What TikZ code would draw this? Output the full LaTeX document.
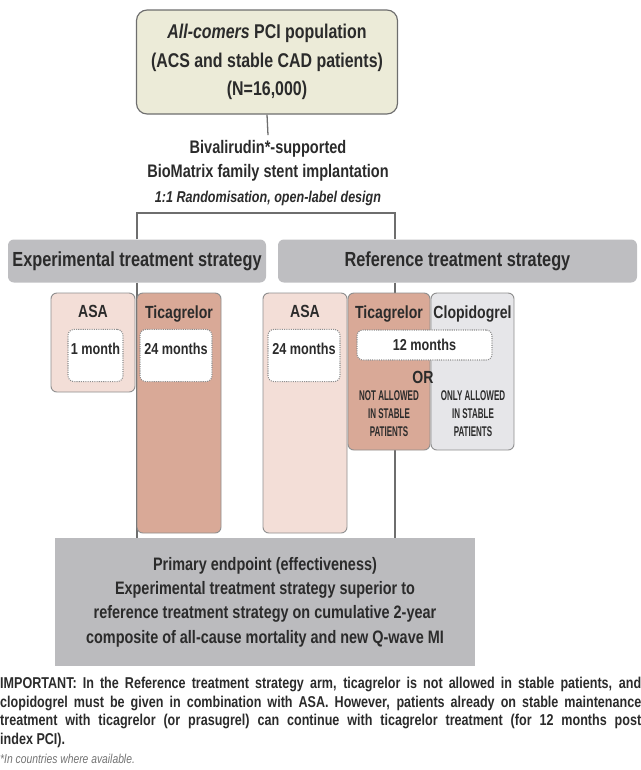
\documentclass[tikz,border=0pt]{standalone}
\usepackage{fontspec}
\setmainfont{Liberation Sans}[FakeStretch=0.8]
\newfontfamily\narrowfont{Liberation Sans}[FakeStretch=0.57]
\newfontfamily\notefont{Liberation Sans}[FakeStretch=0.8]
\usetikzlibrary{positioning,backgrounds}
\definecolor{popfill}{HTML}{ECEBD8}
\definecolor{headgray}{HTML}{BEBEC1}
\definecolor{endgray}{HTML}{BBBBBE}
\definecolor{asafill}{HTML}{F3DED7}
\definecolor{ticfill}{HTML}{D9A997}
\definecolor{clopfill}{HTML}{E6E6E9}
\definecolor{linegray}{HTML}{6E6E6E}
\definecolor{boxline}{HTML}{8E8E8E}
\definecolor{textgray}{HTML}{2B2B2B}

\begin{document}
\begin{tikzpicture}[x=.03cm, y=-.03cm,
  txt/.style={text=textgray, align=center, inner sep=0pt},
  popbox/.style={txt, draw=linegray, line width=1pt, fill=popfill, rounded corners=9pt},
  header/.style={txt, fill=headgray, rounded corners=5pt, font=\bfseries\fontsize{17.4}{20}\selectfont},
  drug/.style={draw=boxline, line width=.8pt, rounded corners=5pt},
  drugtitle/.style={txt, font=\bfseries\fontsize{15}{18}\selectfont},
  month/.style={txt, fill=white, draw=boxline, densely dotted, line width=.9pt, rounded corners=5pt, font=\bfseries\fontsize{13.5}{16}\selectfont},
  stable/.style={txt, font=\narrowfont\bfseries\fontsize{12}{15.3}\selectfont},
  connector/.style={draw=linegray, line width=1.1pt}]
\newcommand{\px}{.03cm}%
\newcommand{\noteline}[1]{\makebox[19.23cm][s]{#1}}%
\useasboundingbox (0,0) rectangle (641,770);

% population and randomisation
\node[popbox, minimum width=261*\px, minimum height=104*\px, font=\bfseries\fontsize{17}{24.5}\selectfont] (pop) at (267,62)
  {\textit{All-comers} PCI population\\(ACS and stable CAD patients)\\(N=16,000)};
\node[txt, inner sep=4pt, font=\bfseries\fontsize{15.5}{21.2}\selectfont] (stent) at (268,173)
  {Bivalirudin*-supported\\BioMatrix family stent implantation\\{\itshape\fontsize{13.4}{16}\selectfont 1:1 Randomisation, open-label design}};
\coordinate (refTop) at (395,213);

% strategy headers
\node[header, minimum width=258*\px, minimum height=43*\px] (expH) at (137,261) {Experimental treatment strategy};
\node[header, minimum width=359*\px, minimum height=43*\px] (refH) at (457.5,261) {Reference treatment strategy};

% experimental arm
\node[drug, fill=asafill, minimum width=84*\px, minimum height=99*\px] (asaE) at (93,342.5) {};
\node[drug, fill=ticfill, minimum width=84*\px, minimum height=240*\px] (ticE) at (179,413) {};
\node[drugtitle, below=11pt of asaE.north] (asaEt) {ASA};
\node[drugtitle, below=11pt of ticE.north] (ticEt) {Ticagrelor};
\node[month, minimum width=55*\px, text height=21pt, text depth=23.5pt] (m1) at (95.5,355.5) {1 month};
\node[month, minimum width=72*\px, text height=21pt, text depth=23.5pt] (m24E) at (176,355.5) {24 months};

% reference arm
\node[drug, fill=asafill, minimum width=84*\px, minimum height=240*\px] (asaR) at (305,413) {};
\node[drug, fill=ticfill, minimum width=82*\px, minimum height=157*\px] (ticR) at (389,371.5) {};
\node[drug, fill=clopfill, minimum width=83*\px, minimum height=157*\px] (clop) at (472.5,371.5) {};
\node[drugtitle, below=11pt of asaR.north] (asaRt) {ASA};
\node[drugtitle, below=11pt of ticR.north] (ticRt) {Ticagrelor};
\node[drugtitle, below=11pt of clop.north] (clopt) {Clopidogrel};
\node[month, minimum width=72*\px, text height=21pt, text depth=23.5pt] (m24R) at (304,355.5) {24 months};
\node[month, minimum width=135*\px, minimum height=30*\px] (m12) at (424.5,345) {12 months};
\node[txt, font=\bfseries\fontsize{15}{17}\selectfont] (or) at (423,377) {OR};
\node[stable] (notst) at (389,414) {NOT ALLOWED\\IN STABLE\\PATIENTS};
\node[stable] (onlyst) at (473,414) {ONLY ALLOWED\\IN STABLE\\PATIENTS};

% primary endpoint
\node[txt, fill=endgray, minimum width=420*\px, minimum height=128*\px, font=\bfseries\fontsize{15.4}{20.8}\selectfont] (endp) at (265,602)
  {Primary endpoint (effectiveness)\\Experimental treatment strategy superior to\\reference treatment strategy on cumulative 2-year\\composite of all-cause mortality and new Q-wave MI};

\begin{scope}[on background layer]
\draw[connector] (pop.south) -- (stent.north);
\draw[connector] (expH.north) |- (refTop) -- (refTop |- refH.north);
\draw[connector] (expH.south) -- (expH.south |- endp.north);
\draw[connector] (refTop |- refH.south) -- (refTop |- endp.north);
\end{scope}

% notes
\node[txt, anchor=north west, align=left, font=\notefont\bfseries\fontsize{13.4}{15.8}\selectfont] (imp) at (0,677)
  {\noteline{IMPORTANT: In the Reference treatment strategy arm, ticagrelor is not allowed in stable patients, and}\\
   \noteline{clopidogrel must be given in combination with ASA. However, patients already on stable maintenance}\\
   \noteline{treatment with ticagrelor (or prasugrel) can continue with ticagrelor treatment (for 12 months post}\\
   index PCI).};
\node[txt, anchor=west, text=black!55, font=\notefont\itshape\fontsize{11}{13}\selectfont] (avail) at (0,759) {*In countries where available.};
\end{tikzpicture}
\end{document}
